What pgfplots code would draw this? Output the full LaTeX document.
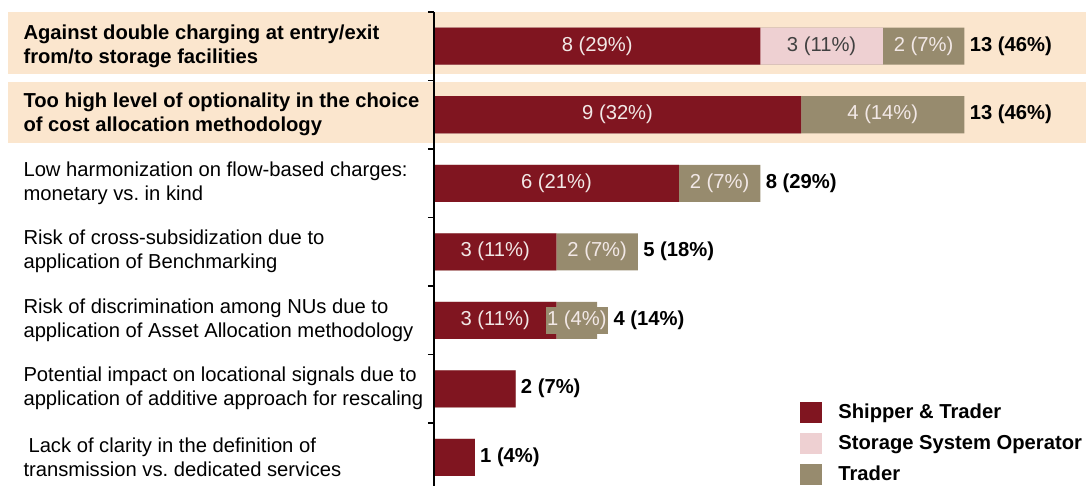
\documentclass[border=0pt]{standalone}
\usepackage{fontspec}
\setmainfont{Liberation Sans}
\usepackage{pgfplots}
\pgfplotsset{compat=1.18}

\definecolor{shipred}{RGB}{128,21,32}
\definecolor{storpink}{RGB}{238,208,210}
\definecolor{tradbrown}{RGB}{151,139,110}
\definecolor{hilite}{RGB}{251,230,206}
\definecolor{lightlbl}{RGB}{242,232,230}

\newcommand{\lblfont}{\fontsize{10.1}{12}\selectfont}
\newcommand{\barfont}{\fontsize{10.1}{11}\selectfont}

\begin{document}
\begin{tikzpicture}
\begin{axis}[
    x=20.4pt, y=34.25pt,
    xmin=0, xmax=15.98,
    ymin=-0.5, ymax=6.42,
    y dir=reverse,
    xbar,
    bar width=18.5pt,
    axis on top,
    axis x line=none,
    axis y line*=left,
    axis line style={black, line width=0.6pt},
    xtick=\empty,
    ytick={-0.5,0.5,1.5,2.5,3.5,4.5,5.5},
    yticklabels={},
    tick align=outside,
    major tick length=3pt,
    tick style={black, line width=0.6pt},
    clip=false,
    reverse legend,
    legend cell align=left,
    legend image code/.code={\fill[#1,draw=none] (0pt,-5.25pt) rectangle (11pt,5.25pt);},
    legend style={draw=none, fill=none, inner sep=0pt,
        at={(axis cs:8.97,5.19)}, anchor=north west,
        font=\fontsize{10.1}{11}\selectfont\bfseries,
        row sep=5pt, column sep=8pt,
        nodes={inner sep=0pt}},
]
% highlight bands
\fill[hilite] (axis cs:-10.44,-0.5) rectangle (axis cs:15.98,0.405);
\fill[hilite] (axis cs:-10.44,0.522) rectangle (axis cs:15.98,1.414);

% cumulative ends: all three groups, then shipper + storage, then shipper alone
\addplot[fill=tradbrown, draw=none, bar shift=0pt] coordinates {
    (13,0) (13,1) (8,2) (5,3) (4,4) (2,5) (1,6)};
\addlegendentry{Trader}
\addplot[fill=storpink, draw=none, bar shift=0pt] coordinates {
    (11,0) (9,1) (6,2) (3,3) (3,4) (2,5) (1,6)};
\addlegendentry{Storage System Operator}
\addplot[fill=shipred, draw=none, bar shift=0pt] coordinates {
    (8,0) (9,1) (6,2) (3,3) (3,4) (2,5) (1,6)};
\addlegendentry{Shipper \& Trader}

% category labels
\begin{scope}[every node/.style={anchor=west, align=left, inner sep=0pt, font=\lblfont}]
\node at (axis cs:-10.07,0) {\bfseries Against double charging at entry/exit\\\bfseries from/to storage facilities};
\node at (axis cs:-10.07,1) {\bfseries Too high level of optionality in the choice\\\bfseries of cost allocation methodology};
\node at (axis cs:-10.07,2) {Low harmonization on flow-based charges:\\monetary vs.\ in kind};
\node at (axis cs:-10.07,3) {Risk of cross-subsidization due to\\application of Benchmarking};
\node at (axis cs:-10.07,4) {Risk of discrimination among NUs due to\\application of Asset Allocation methodology};
\node at (axis cs:-10.07,5) {Potential impact on locational signals due to\\application of additive approach for rescaling};
\node at (axis cs:-10.07,6) {\hspace*{2.5pt}Lack of clarity in the definition of\\transmission vs.\ dedicated services};
\end{scope}

% segment labels
\begin{scope}[every node/.style={inner sep=0pt, font=\barfont, text=lightlbl}]
\node at (axis cs:4,0) {8 (29\%)};
\node[text=black!75] at (axis cs:9.5,0) {3 (11\%)};
\node at (axis cs:12,0) {2 (7\%)};
\node at (axis cs:4.5,1) {9 (32\%)};
\node at (axis cs:11,1) {4 (14\%)};
\node at (axis cs:3,2) {6 (21\%)};
\node at (axis cs:7,2) {2 (7\%)};
\node at (axis cs:1.5,3) {3 (11\%)};
\node at (axis cs:4,3) {2 (7\%)};
\node at (axis cs:1.5,4) {3 (11\%)};
\node[fill=tradbrown, inner xsep=0.5pt, inner ysep=2pt] at (axis cs:3.5,4) {1 (4\%)};
\end{scope}

% totals
\begin{scope}[every node/.style={anchor=west, inner sep=0pt, font=\barfont\bfseries, xshift=2.5pt}]
\node at (axis cs:13,0) {13 (46\%)};
\node at (axis cs:13,1) {13 (46\%)};
\node at (axis cs:8,2) {8 (29\%)};
\node at (axis cs:5,3) {5 (18\%)};
\node[xshift=5.5pt] at (axis cs:4,4) {4 (14\%)};
\node at (axis cs:2,5) {2 (7\%)};
\node at (axis cs:1,6) {1 (4\%)};
\end{scope}

\coordinate (bbTL) at (axis cs:-10.637,-0.675);
\coordinate (bbBR) at (axis cs:15.98,6.42);
\end{axis}
\pgfresetboundingbox
\path[use as bounding box] (bbTL) rectangle (bbBR);
\end{tikzpicture}
\end{document}
